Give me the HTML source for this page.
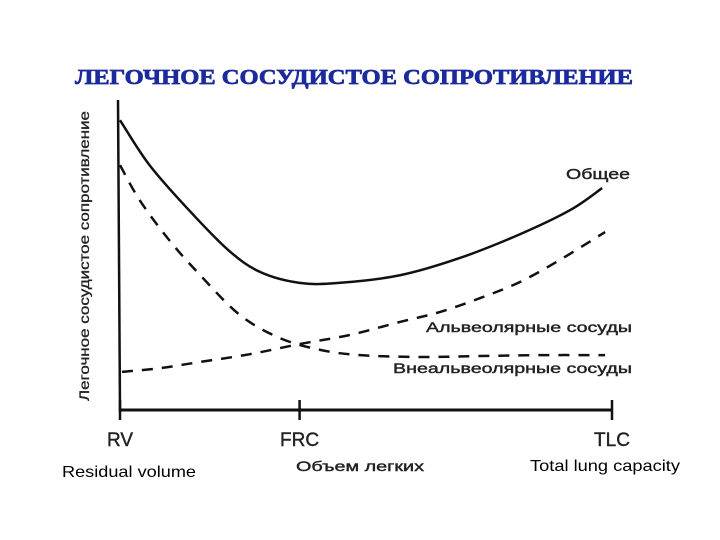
<!DOCTYPE html>
<html><head><meta charset="utf-8">
<style>
html,body{margin:0;padding:0;background:#fff;}
svg{display:block;}
</style></head>
<body>
<svg id="chart" width="720" height="540" xmlns="http://www.w3.org/2000/svg">
<text x="354" y="84" text-anchor="middle" font-family="Liberation Serif, serif" font-weight="bold" font-size="21" fill="#1b2a9c" stroke="#1b2a9c" stroke-width="0.7" textLength="558" lengthAdjust="spacingAndGlyphs">ЛЕГОЧНОЕ СОСУДИСТОЕ СОПРОТИВЛЕНИЕ</text>
<text transform="translate(89,256) rotate(-90)" text-anchor="middle" font-family="Liberation Sans, sans-serif" font-size="13.5" fill="#222" stroke="#222" stroke-width="0.3" textLength="290" lengthAdjust="spacingAndGlyphs">Легочное сосудистое сопротивление</text>
<line x1="118" y1="100" x2="120" y2="412" stroke="#111" stroke-width="2.5"/>
<line x1="120" y1="410" x2="613" y2="410" stroke="#111" stroke-width="3"/>
<g id="ticks"></g>
<g id="series"></g>
<text x="566" y="179" font-family="Liberation Sans, sans-serif" font-size="14.5" fill="#222" stroke="#222" stroke-width="0.4" textLength="64" lengthAdjust="spacingAndGlyphs">Общее</text>
<text x="426" y="332" font-family="Liberation Sans, sans-serif" font-size="14" fill="#222" stroke="#222" stroke-width="0.4" textLength="206" lengthAdjust="spacingAndGlyphs">Альвеолярные сосуды</text>
<text x="393" y="373" font-family="Liberation Sans, sans-serif" font-size="14" fill="#222" stroke="#222" stroke-width="0.4" textLength="239" lengthAdjust="spacingAndGlyphs">Внеальвеолярные сосуды</text>
<text x="296" y="471" font-family="Liberation Sans, sans-serif" font-size="14" fill="#222" stroke="#222" stroke-width="0.4" textLength="128" lengthAdjust="spacingAndGlyphs">Объем легких</text>
<text x="62" y="477" font-family="Liberation Sans, sans-serif" font-size="16" fill="#000" textLength="134" lengthAdjust="spacingAndGlyphs">Residual volume</text>
<text x="530" y="471" font-family="Liberation Sans, sans-serif" font-size="16" fill="#000" textLength="150" lengthAdjust="spacingAndGlyphs">Total lung capacity</text>
</svg>
<script>
const tickLabels = ["RV", "FRC", "TLC"];
const tickValues = [0, 36.5, 100];
const totalX = [0, 6, 14, 22, 28.5, 36.5, 44.5, 57, 69, 81, 91.5, 98];
const totalY = [93.5, 79, 64.5, 51.6, 44.5, 41, 41, 43.5, 49, 56.5, 64.5, 71.6];
const extraX = [0, 4, 10, 16.3, 24.4, 32.5, 40.7, 48.8, 61, 73, 85.4, 98.6];
const extraY = [79, 67.7, 54.8, 43.5, 30.6, 23.2, 19.4, 17.7, 17.1, 17.4, 17.7, 17.7];
const alvX = [0.4, 8.1, 16.3, 26.4, 36.6, 46.7, 56.9, 65, 73.2, 81.3, 89.4, 98.6];
const alvY = [12.3, 13.5, 15.5, 18, 21.3, 24.2, 28.4, 31.6, 36.1, 41.3, 48.4, 57.4];

const NS = "http://www.w3.org/2000/svg";
function sx(v){ return 120 + v / 100 * 492; }
function sy(v){ return 410 - v * 3.1; }
function pathFor(xs, ys){
  const p = xs.map((x, i) => [sx(x), sy(ys[i])]);
  let d = "M" + p[0][0] + "," + p[0][1];
  for (let i = 0; i < p.length - 1; i++) {
    const p0 = p[Math.max(0, i - 1)], p1 = p[i], p2 = p[i + 1], p3 = p[Math.min(p.length - 1, i + 2)];
    const c1x = p1[0] + (p2[0] - p0[0]) / 6, c1y = p1[1] + (p2[1] - p0[1]) / 6;
    const c2x = p2[0] - (p3[0] - p1[0]) / 6, c2y = p2[1] - (p3[1] - p1[1]) / 6;
    d += " C" + c1x + "," + c1y + " " + c2x + "," + c2y + " " + p2[0] + "," + p2[1];
  }
  return d;
}
const ticks = document.getElementById("ticks");
tickValues.forEach((v, i) => {
  const l = document.createElementNS(NS, "line");
  l.setAttribute("x1", sx(v)); l.setAttribute("x2", sx(v));
  l.setAttribute("y1", 400); l.setAttribute("y2", 420);
  l.setAttribute("stroke", "#111"); l.setAttribute("stroke-width", "2.5");
  
  
  ticks.appendChild(l);
  const t = document.createElementNS(NS, "text");
  t.setAttribute("x", sx(v)); t.setAttribute("y", 446);
  t.setAttribute("text-anchor", "middle");
  t.setAttribute("font-family", "Liberation Sans, sans-serif");
  t.setAttribute("font-size", "19"); t.setAttribute("fill", "#222");
  t.setAttribute("stroke", "#222"); t.setAttribute("stroke-width", "0.4");
  t.textContent = tickLabels[i];
  
  
  ticks.appendChild(t);
});
const series = document.getElementById("series");
function addLine(xs, ys, dash, name){
  const p = document.createElementNS(NS, "path");
  p.setAttribute("d", pathFor(xs, ys));
  p.setAttribute("fill", "none");
  p.setAttribute("stroke", "#111");
  p.setAttribute("stroke-width", "2.5");
  if (dash) p.setAttribute("stroke-dasharray", "11 9");
  
  
  series.appendChild(p);
}
addLine(totalX, totalY, false, "total-resistance-line");
addLine(extraX, extraY, true, "extra-alveolar-line");
addLine(alvX, alvY, true, "alveolar-line");
</script>
</body></html>
